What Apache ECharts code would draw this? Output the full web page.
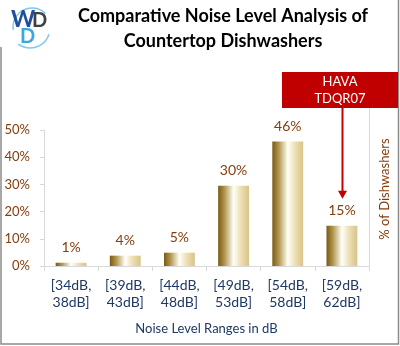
<!DOCTYPE html>
<html><head><meta charset="utf-8">
<script src="https://cdn.jsdelivr.net/npm/echarts@6/dist/echarts.min.js"></script>
<style>html,body{margin:0;padding:0;background:#fff}#c{width:400px;height:346px}</style>
</head><body><div id="c"></div>
<script>
var categories = ['[34dB,\n38dB]', '[39dB,\n43dB]', '[44dB,\n48dB]', '[49dB,\n53dB]', '[54dB,\n58dB]', '[59dB,\n62dB]'];
var shares = [1.2, 3.8, 4.9, 29.5, 45.8, 14.8];
var yTicks = [0, 10, 20, 30, 40, 50];
var highlightIndex = 5;
var highlightText = 'HAVA\nTDQR07';

var F = 'Lato, "Open Sans", sans-serif';
var brown = '#843C0C', navy = '#1F3864', axisGray = '#D9D9D9', red = '#C00000';
var chart = echarts.init(document.getElementById('c'), null, {renderer: 'canvas'});
var gridL = 44, gridR = 31, gridT = 130, gridB = 80;
var option = {
  animation: false,
  backgroundColor: '#fff',
  textStyle: {fontFamily: F},
  grid: {left: gridL, right: gridR, top: gridT, bottom: gridB, containLabel: false},
  xAxis: {
    type: 'category', data: categories,
    axisLine: {lineStyle: {color: axisGray, width: 1}},
    axisTick: {show: true, length: 5, lineStyle: {color: axisGray}},
    axisLabel: {color: navy, fontSize: 14, fontFamily: F, lineHeight: 17, margin: 11, interval: 0},
    name: 'Noise Level Ranges in dB', nameLocation: 'middle', nameGap: 56,
    nameTextStyle: {color: navy, fontSize: 13, fontFamily: F}
  },
  yAxis: {
    type: 'value', min: yTicks[0], max: yTicks[yTicks.length - 1], interval: yTicks[1] - yTicks[0],
    splitLine: {show: false},
    axisLine: {show: true, lineStyle: {color: axisGray}},
    axisTick: {show: true, length: 4, lineStyle: {color: axisGray}},
    axisLabel: {color: brown, fontSize: 13, fontFamily: F, margin: 14, formatter: '{value}%'}
  },
  series: [{
    type: 'bar', data: shares, barCategoryGap: '43%',
    itemStyle: {color: new echarts.graphic.LinearGradient(0, 0, 1, 0, [
      {offset: 0, color: '#7A5A14'},
      {offset: 0.2, color: '#B0934A'},
      {offset: 0.5, color: '#FFFFFA'},
      {offset: 0.72, color: '#EEE1B8'},
      {offset: 1, color: '#D9C386'}
    ])},
    label: {show: true, position: 'top', distance: 8, color: brown, fontSize: 14, fontFamily: F,
      formatter: function (p) { return Math.round(p.value) + '%'; }}
  }]
};
chart.setOption(option);

var W = 400, H = 346;
var px = chart.convertToPixel({seriesIndex: 0}, [highlightIndex, shares[highlightIndex]]);
var ax = Math.round(px[0]) + 0.5;
var boxTop = 72, boxBot = 108;
var tipY = px[1] - 27;
var g = [
  {type: 'polyline', shape: {points: [[1, 47], [1, H - 2], [W - 1.5, H - 2], [W - 1.5, 0]]}, style: {stroke: '#8C8C8C', lineWidth: 1.5, fill: null}},
  {type: 'line', shape: {x1: W - gridR + 0.5, y1: boxBot, x2: W - gridR + 0.5, y2: H - gridB}, style: {stroke: axisGray, lineWidth: 1}},
  {type: 'text', style: {text: 'Comparative Noise Level Analysis of\nCountertop Dishwashers', x: 223, y: 4, textAlign: 'center', font: 'bold 18px ' + F, fill: '#000', lineHeight: 25}},
  {type: 'text', x: 385, y: 189, rotation: Math.PI / 2, style: {text: '% of Dishwashers', textAlign: 'center', textVerticalAlign: 'middle', font: '13px ' + F, fill: brown}},
  {type: 'rect', shape: {x: 282, y: boxTop, width: W - 2 - 282, height: boxBot - boxTop}, style: {fill: red}},
  {type: 'text', style: {text: highlightText, x: (282 + W - 2) / 2, y: (boxTop + boxBot) / 2, textAlign: 'center', textVerticalAlign: 'middle', font: '13px ' + F, fill: '#fff', lineHeight: 17}},
  {type: 'line', shape: {x1: ax, y1: boxBot, x2: ax, y2: tipY - 6}, style: {stroke: red, lineWidth: 2}},
  {type: 'polygon', shape: {points: [[ax - 4.5, tipY - 8], [ax + 4.5, tipY - 8], [ax, tipY]]}, style: {fill: red}},
  {type: 'arc', shape: {cx: 32, cy: 27, r: 19, startAngle: Math.PI * 0.95, endAngle: Math.PI * 1.75}, style: {stroke: '#7CC8F0', lineWidth: 1.5, fill: null}},
  {type: 'arc', shape: {cx: 30, cy: 28, r: 20, startAngle: Math.PI * 0.1, endAngle: Math.PI * 0.7}, style: {stroke: '#7CC8F0', lineWidth: 1.5, fill: null}},
  {type: 'text', style: {text: 'W', x: 11, y: 8, font: 'bold 23px ' + F, fill: '#1F4E9C'}},
  {type: 'text', style: {text: 'D', x: 32, y: 11, font: 'bold 20px ' + F, fill: '#404040'}},
  {type: 'text', style: {text: 'D', x: 20, y: 27, font: 'bold 20px ' + F, fill: '#3AA6E6'}}
];
chart.setOption({graphic: g});
</script>
</body></html>
